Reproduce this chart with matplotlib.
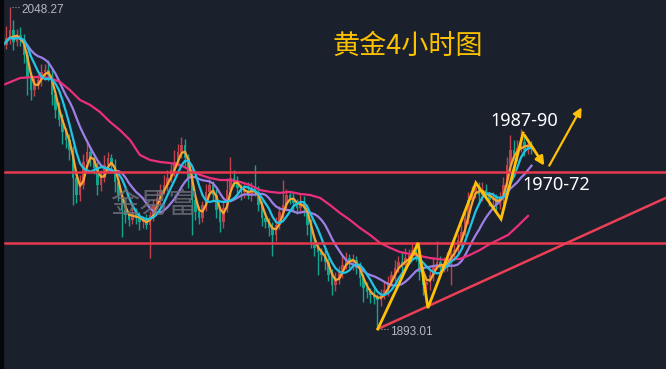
import numpy as np
import pandas as pd
import matplotlib
matplotlib.use("Agg")
from matplotlib import pyplot as plt
from matplotlib.patches import Rectangle

plt.rcParams['font.family'] = ['Noto Sans CJK SC', 'DejaVu Sans']

# 4小时收盘价
close = [2029.9, 2033.3, 2037.1, 2031.4, 2034.7, 2032.3, 2025.1, 2014.0, 2008.2, 2010.6,
         2013.0, 2016.9, 2017.9, 2015.5, 2005.8, 1998.6, 1993.8, 1988.0, 1984.1, 1979.3,
         1965.8, 1957.6, 1962.4, 1973.5, 1978.3, 1975.4, 1970.6, 1962.4, 1965.8, 1972.1,
         1975.4, 1972.1, 1963.9, 1957.6, 1950.4, 1948.0, 1945.6, 1949.4, 1946.5, 1944.6,
         1945.6, 1943.2, 1948.0, 1952.8, 1956.2, 1960.0, 1962.4, 1965.8, 1969.7, 1973.5,
         1978.3, 1981.7, 1975.4, 1965.8, 1955.2, 1949.4, 1946.5, 1952.8, 1959.1, 1962.4,
         1957.6, 1950.4, 1944.6, 1951.3, 1960.0, 1965.8, 1963.9, 1961.0, 1959.1, 1960.0,
         1957.6, 1961.0, 1959.1, 1952.8, 1946.5, 1944.6, 1941.7, 1938.3, 1943.2, 1949.4,
         1952.8, 1957.6, 1956.2, 1953.8, 1951.3, 1954.2, 1951.3, 1943.2, 1935.0, 1932.1,
         1930.1, 1928.7, 1925.3, 1919.1, 1914.2, 1916.6, 1920.5, 1923.9, 1927.2, 1925.3,
         1926.3, 1922.4, 1917.6, 1912.8, 1910.9, 1909.4, 1908.0, 1907.0, 1909.4, 1911.8,
         1915.7, 1919.1, 1922.4, 1925.3, 1923.9, 1927.2, 1928.7, 1931.1, 1928.7, 1920.5,
         1914.2, 1915.7, 1919.1, 1923.9, 1925.3, 1922.4, 1923.9, 1927.2, 1930.1, 1931.1,
         1935.9, 1939.8, 1946.5, 1955.2, 1959.1, 1961.0, 1957.6, 1960.0, 1957.1, 1955.2,
         1956.2, 1952.8, 1956.2, 1962.4, 1972.1, 1979.3, 1976.9, 1980.3, 1983.2, 1979.3,
         1981.7, 1980.3]
up_wick = [4, 6, 11.2, 5, 3, 4, 3, 2, 3, 4,
           3, 4, 3, 5, 3, 2, 4, 3, 2, 3,
           2, 3, 5, 4, 6, 3, 2, 3, 4, 5,
           3, 2, 3, 2, 2, 3, 2, 3, 2, 3,
           2, 3, 2, 3, 4, 3, 5, 4, 3, 6,
           4, 4, 3, 2, 3, 2, 3, 2, 4, 3,
           2, 3, 2, 4, 6, 10, 4, 3, 2, 3,
           4, 3, 11, 3, 2, 3, 2, 3, 4, 3,
           12, 3, 2, 3, 2, 4, 3, 2, 3, 2,
           3, 2, 3, 2, 3, 4, 3, 5, 3, 2,
           3, 2, 3, 2, 3, 2, 3, 2, 3, 4,
           3, 2, 4, 3, 5, 5, 3, 4, 4, 2,
           3, 2, 3, 4, 10, 3, 4, 3, 2, 3,
           3, 4, 3, 4, 3, 4, 3, 4, 3, 2,
           3, 2, 3, 4, 4, 7, 5, 4, 6, 3,
           3, 2]
dn_wick = [3, 2, 3, 4, 2, 3, 4, 8, 5, 3,
           2, 3, 4, 3, 5, 4, 3, 6, 4, 5,
           13, 4, 3, 2, 3, 4, 3, 5, 3, 2,
           3, 4, 5, 3, 13, 4, 3, 2, 3, 4,
           3, 2, 16, 3, 2, 3, 2, 3, 2, 3,
           2, 3, 4, 5, 17, 4, 3, 2, 3, 2,
           3, 4, 5, 3, 2, 3, 2, 3, 4, 3,
           2, 3, 2, 3, 4, 3, 4, 10, 3, 2,
           3, 2, 3, 4, 3, 2, 4, 5, 3, 4,
           11, 3, 4, 3, 5, 3, 2, 3, 2, 3,
           4, 3, 4, 7, 3, 4, 3, 14, 3, 2,
           3, 2, 3, 2, 3, 2, 3, 2, 3, 4,
           5, 3, 4, 3, 2, 3, 2, 3, 13, 3,
           2, 3, 2, 3, 2, 3, 4, 3, 2, 3,
           4, 3, 2, 3, 4, 3, 2, 3, 2, 3,
           2, 3]

# 60均线（粉色），按K线序号取点
pink_x = [0, 4.9, 9.1, 13.4, 16.3, 19.1, 22, 24.9, 27.7, 30.6, 33.4, 36.3, 39.1, 42,
          44.9, 47.7, 50.6, 53.4, 56.3, 59.1, 62, 64.9, 67.7, 70.6, 73.4, 76.3, 79.1,
          82, 84.9, 87.7, 90.6, 93.4, 96.3, 99.1, 102, 104.9, 107.7, 110.6, 113.4,
          117.7, 122, 126.3, 130.6, 133.4, 136.3, 139.1, 142, 144.3, 147.1, 150]
pink_y = [2010.6, 2014.0, 2014.5, 2014.0, 2012.1, 2008.2, 2003.4, 2001.0, 1997.6, 1992.8,
          1988.9, 1984.1, 1976.9, 1974.5, 1973.5, 1973.0, 1972.1, 1969.7, 1967.3, 1965.8,
          1964.8, 1964.8, 1963.9, 1962.4, 1960.0, 1959.1, 1958.6, 1959.1, 1958.1, 1957.6,
          1956.2, 1952.8, 1948.9, 1945.6, 1941.7, 1938.3, 1934.5, 1932.1, 1930.1, 1928.7,
          1927.2, 1926.3, 1926.8, 1928.7, 1931.1, 1934.0, 1936.4, 1938.3, 1942.7, 1947.5]

# 关键位
support_lines = [1968.7, 1934.5]
trend_pts = ([107.1, 189.4], [1893.0, 1956.2])
zig_x = [107.1, 118.6, 121.4, 135.1, 142.3, 148.6, 155.1]
zig_y = [1893.0, 1934.5, 1903.1, 1963.4, 1946.0, 1987.5, 1970.6]
up_arrow = ([155.7, 165.7], [1970.6, 2001.0])
hi_label, lo_label = 2048.27, 1893.01

bg = '#1b202d'
up_c, dn_c = '#c0424a', '#12a58e'

fig = plt.figure(figsize=(6.66, 3.69), dpi=100, facecolor=bg)
ax = fig.add_axes([0, 0, 1, 1])
ax.set_facecolor(bg)

c = np.array(close)
o = np.r_[c[0] + 2, c[:-1]]
h = np.maximum(o, c) + np.array(up_wick)
l = np.minimum(o, c) - np.array(dn_wick)
x = np.arange(len(c))
col = np.where(c >= o, up_c, dn_c)

ax.vlines(x, l, h, colors=col, linewidth=1.0, zorder=2)
ax.bar(x, np.maximum(np.abs(c - o), 0.4), bottom=np.minimum(o, c), width=0.65,
       color=col, linewidth=0, zorder=2)

s = pd.Series(c)
ax.plot(x, s.rolling(3, min_periods=1).mean(), color='#f7a531', lw=1.6, zorder=4)
ax.plot(x, s.rolling(6, min_periods=1).mean(), color='#22c4e4', lw=1.6, zorder=4)
ax.plot(x, s.rolling(12, min_periods=1).mean(), color='#9d80e6', lw=1.6, zorder=3)
ax.plot(pink_x, pink_y, color='#ec2f7c', lw=1.6, zorder=3)

for y in support_lines:
    ax.axhline(y, color='#e8394e', lw=1.8, zorder=5)
ax.plot(*trend_pts, color='#ec3f55', lw=1.8, zorder=5)

ax.plot(zig_x[:-1], zig_y[:-1], color='#ffc107', lw=2, zorder=6, solid_joinstyle='miter')
ax.annotate('', xy=(zig_x[-1], zig_y[-1]), xytext=(zig_x[-2], zig_y[-2]),
            arrowprops=dict(arrowstyle='-|>,head_length=0.5,head_width=0.25',
                            color='#ffc107', lw=2), zorder=6)
ax.annotate('', xy=(up_arrow[0][1], up_arrow[1][1]), xytext=(up_arrow[0][0], up_arrow[1][0]),
            arrowprops=dict(arrowstyle='-|>,head_length=0.5,head_width=0.25',
                            color='#ffc107', lw=1.6), zorder=6)

# 最高/最低价标注
ax.plot([2.5, 5], [hi_label, hi_label], color='#9aa0aa', lw=0.8, ls=':')
ax.text(5.3, hi_label - 1.4, f'{hi_label:.2f}', color='#b3b7bf', fontsize=8.5,
        family='Liberation Sans', va='center', ha='left')
ax.plot([108, 110.3], [lo_label, lo_label], color='#9aa0aa', lw=0.8, ls=':')
ax.text(110.6, lo_label - 1.6, f'{lo_label:.2f}', color='#b3b7bf', fontsize=8.5,
        family='Liberation Sans', va='center', ha='left')

ax.text(0.5, 0.874, '黄金4小时图', transform=ax.transAxes, color='#fcc200',
        fontsize=19.5, ha='left', va='center')
ax.text(0.736, 0.672, '1987-90', transform=ax.transAxes, color='white',
        fontsize=13, family='Noto Sans', ha='left', va='center')
ax.text(0.785, 0.498, '1970-72', transform=ax.transAxes, color='white',
        fontsize=13, family='Noto Sans', ha='left', va='center')
ax.text(0.166, 0.445, '金易富', transform=ax.transAxes, color='#6e7178', alpha=0.8,
        fontsize=21, ha='left', va='center', zorder=7)

ax.set_xlim(-0.857, 189.43)
ax.set_ylim(1873.7, 2051.6)
ax.axis('off')
fig.patches.append(Rectangle((0, 0), 0.005, 1, transform=fig.transFigure,
                             color='#05070a', zorder=10))

plt.savefig('out.png', dpi=100, facecolor=bg)
